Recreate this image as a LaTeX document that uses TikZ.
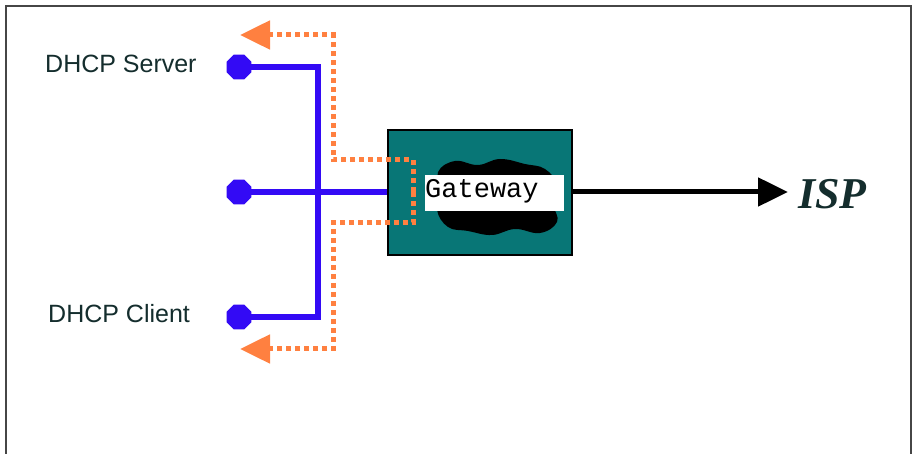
\documentclass[tikz,border=0pt]{standalone}
\usepackage{fontspec}
\setmainfont{Liberation Sans}
\newfontfamily\monofont{Liberation Mono}
\newfontfamily\ispfont{Liberation Serif}
\usetikzlibrary{arrows.meta,shapes.geometric}
\definecolor{netblue}{RGB}{51,10,245}
\definecolor{dhcporange}{RGB}{255,128,64}
\definecolor{gwteal}{RGB}{8,118,118}
\definecolor{textdark}{RGB}{20,45,45}
\definecolor{framegray}{RGB}{70,70,70}
\tikzset{
  portdot/.style={regular polygon, regular polygon sides=8, fill=netblue, draw=none, minimum size=27pt, inner sep=0pt},
  bus/.style={draw=netblue, line width=5.5pt},
  dhcpflow/.style={draw=dhcporange, line width=5pt, dash pattern=on 5pt off 4pt, -{Triangle[length=30pt,width=28pt,fill=dhcporange]}},
  uplink/.style={draw=black, line width=5pt, -{Triangle[length=30pt,width=28pt]}},
  gwbox/.style={draw=black, line width=1.5pt, fill=gwteal, minimum width=184pt, minimum height=125pt, inner sep=0pt},
  gwlabel/.style={fill=white, draw=none, minimum width=139pt, minimum height=36pt, inner sep=0pt},
  gwtext/.style={font=\monofont\fontsize{27}{27}\selectfont, text=black, inner sep=0pt},
  lbl/.style={font=\fontsize{25}{25}\selectfont, text=textdark, inner sep=0pt},
  isplbl/.style={font=\ispfont\bfseries\itshape\fontsize{44}{44}\selectfont, text=textdark, inner sep=0pt}
}
\begin{document}
\begin{tikzpicture}[x=1pt,y=-1pt]
\useasboundingbox (0,0) rectangle (914,454);
\fill[white] (0,0) rectangle (914,454);
\draw[framegray, line width=2.5pt] (6,460) -- (6,6) -- (911,6) -- (911,460);

% gateway box
\node[gwbox] (gw) at (480,192.5) {};
\fill[black] plot[smooth cycle, tension=0.7] coordinates {(438,172) (455,161) (478,165) (500,159) (525,164) (545,169) (557,185) (554,205) (557,222) (540,233) (515,229) (492,235) (468,231) (448,227) (437,210) (441,192)};
\node[gwlabel, anchor=west] (gwl) at (425,193) {};
\node[gwtext, anchor=west] (gwt) at (425,191) {Gateway};

% bus
\node[portdot] (srv) at (239,67) {};
\node[portdot] (mid) at (239,192) {};
\node[portdot] (cli) at (239,317) {};
\coordinate (jt) at (318,67);
\coordinate (jb) at (318,317);
\draw[bus] (srv.center) -- (jt) -- (jb) -- (cli.center);
\draw[bus] (mid.center) -- (gw.west |- mid);

% dhcp flows
\coordinate (gwin) at (413,192);
\coordinate (tr) at (413,160);
\coordinate (tl) at (333,160);
\coordinate (tu) at (333,35);
\coordinate (ttip) at (240,35);
\coordinate (br) at (413,223);
\coordinate (bl) at (333,223);
\coordinate (bd) at (333,349);
\coordinate (btip) at (240,349);
\draw[dhcpflow] (gwin) -- (tr) -- (tl) -- (tu) -- (ttip);
\draw[dhcpflow] (gwin) -- (br) -- (bl) -- (bd) -- (btip);

% labels
\node[lbl, anchor=west] (srvl) at (45,64) {DHCP Server};
\node[lbl, anchor=west] (clil) at (48,314) {DHCP Client};

% ISP
\node[isplbl, anchor=west] (isp) at (798,194) {ISP};
\coordinate (isptip) at (788,192);
\draw[uplink] (gw.east |- mid) -- (isptip);
\end{tikzpicture}
\end{document}
